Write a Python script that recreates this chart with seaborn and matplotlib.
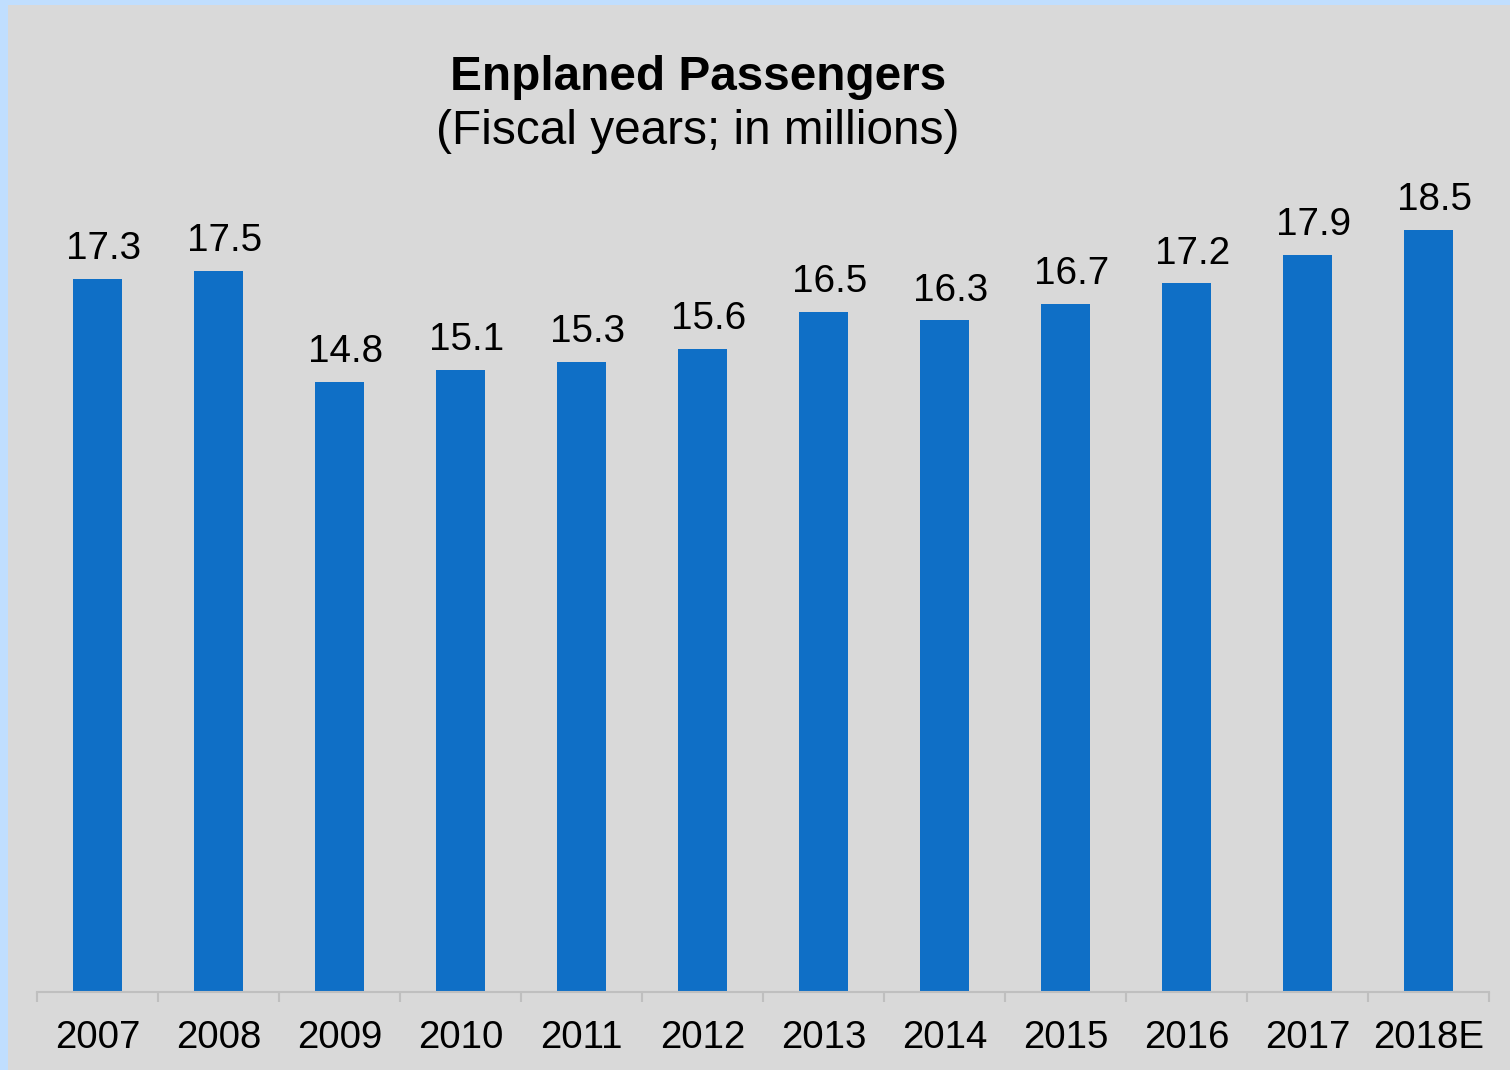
import matplotlib
matplotlib.use('Agg')
import pandas as pd
import seaborn as sns
from matplotlib import pyplot as plt
from matplotlib.patches import Rectangle
from matplotlib.ticker import FixedLocator

# Données (millions de passagers embarqués)
years = ['2007', '2008', '2009', '2010', '2011', '2012',
         '2013', '2014', '2015', '2016', '2017', '2018E']
passengers = [17.3, 17.5, 14.8, 15.1, 15.3, 15.6,
              16.5, 16.3, 16.7, 17.2, 17.9, 18.5]

df = pd.DataFrame({'year': years, 'value': passengers})

sns.set_theme(style='white')
plt.rcParams['font.family'] = ['Liberation Sans', 'DejaVu Sans']

fig = plt.figure(figsize=(15.1, 10.7), dpi=100, facecolor='#c0defe')
# gray panel inside the light blue frame
fig.patches.append(Rectangle((8 / 1510, 0), 1, 1 - 5 / 1070, transform=fig.transFigure,
                             facecolor='#d9d9d9', edgecolor='none', zorder=-10))

ax = fig.add_axes([37 / 1510, 78 / 1070, 1452 / 1510, 824 / 1070])
ax.set_facecolor('none')
sns.barplot(data=df, x='year', y='value', color='#0f6fc6', saturation=1,
            width=0.4, linewidth=0, ax=ax)

ax.set_xlim(-0.5, len(years) - 0.5)
ax.set_ylim(0, 20)
ax.set_xlabel('')
ax.set_ylabel('')
ax.set_yticks([])
for side in ['top', 'right', 'left']:
    ax.spines[side].set_visible(False)
ax.spines['bottom'].set_color('#bfbfbf')
ax.spines['bottom'].set_linewidth(1.5)

# ticks between categories, labels centred under bars
ax.xaxis.set_minor_locator(FixedLocator([i - 0.5 for i in range(len(years) + 1)]))
ax.tick_params(axis='x', which='minor', bottom=True, length=7.5, width=1.5,
               color='#bfbfbf', direction='out')
ax.tick_params(axis='x', which='major', length=0, pad=20, labelsize=27.7,
               labelcolor='black')

for i, v in enumerate(passengers):
    ax.annotate('{:.1f}'.format(v), (i, v), xytext=(4.3, 8.5), textcoords='offset points',
                ha='center', va='bottom', fontsize=27.8, color='black')

fig.text(698 / 1510, 1 - 77 / 1070, 'Enplaned Passengers', ha='center', va='center',
         fontsize=34.4, fontweight='bold', color='black')
fig.text(698 / 1510, 1 - 132 / 1070, '(Fiscal years; in millions)', ha='center',
         va='center', fontsize=34.4, color='black')

fig.savefig('out.png', dpi=100, facecolor=fig.get_facecolor())
plt.close()
